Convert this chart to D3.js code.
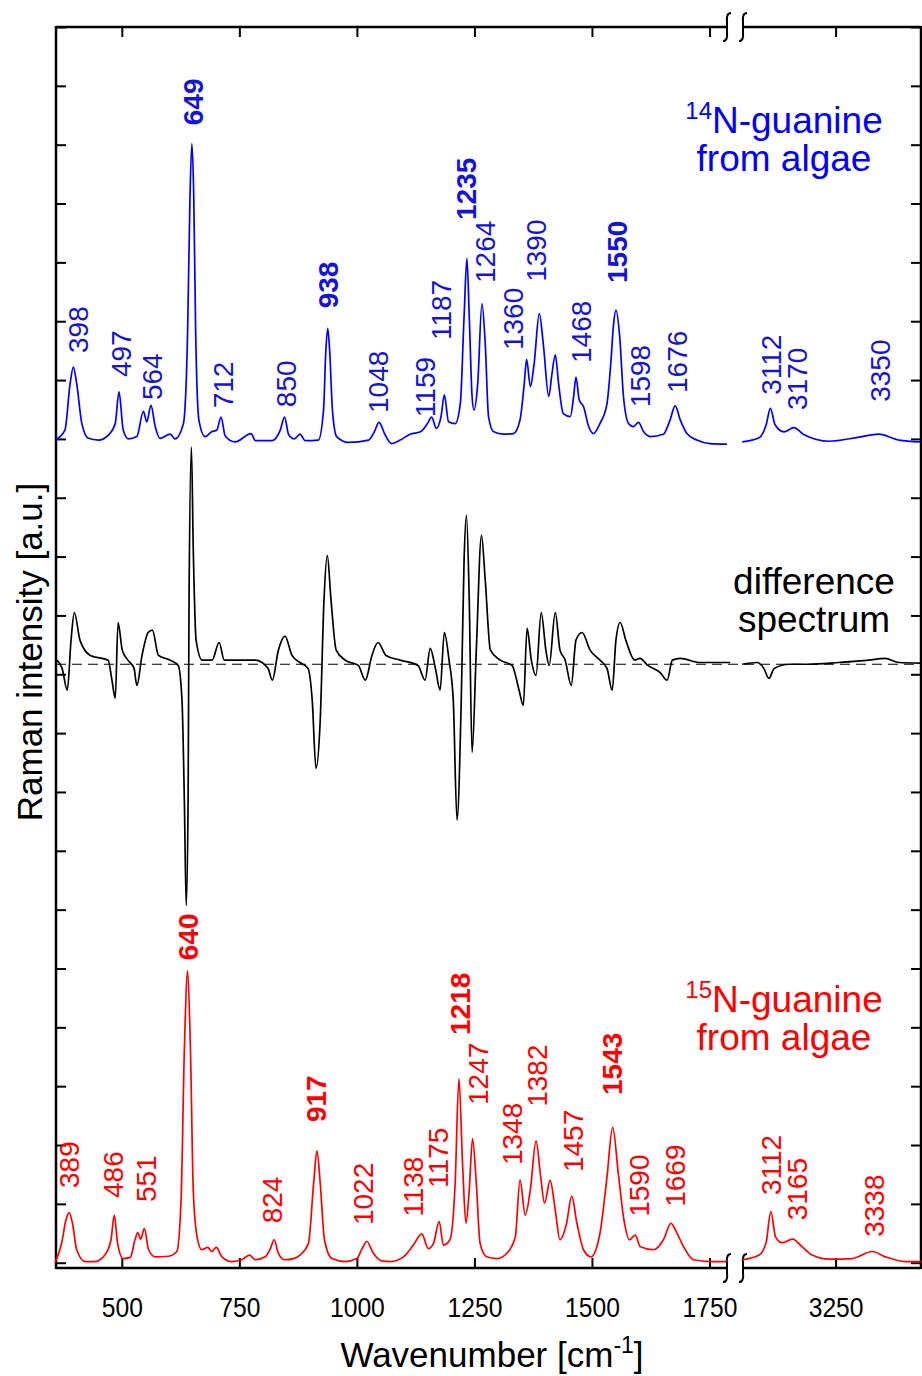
<!DOCTYPE html>
<html>
<head>
<meta charset="utf-8">
<script src="https://cdnjs.cloudflare.com/ajax/libs/d3/7.8.5/d3.min.js"></script>
<style>
body { margin: 0; background: #fff; }
svg { font-family: "Liberation Sans", Arial, sans-serif; }
.axis path { display: none; }
.axis line { stroke: #000; stroke-width: 2; }
.axis text { font-size: 28px; fill: #000; }
</style>
</head>
<body>
<div id="chart"></div>
<script>
// spectra: [wavenumber, intensity above own baseline]
var n14Spectrum = [[358,-0.02],[379,0.15],[390,0.94],[397,1.22],[404,0.94],[415,0.26],[429,0.01],[450,-0.02],[472,0.07],[486,0.26],[494,0.80],[503,0.15],[514,0.0],[532,0.04],[546,0.47],[553,0.29],[562,0.57],[571,0.21],[581,0.01],[603,0.08],[613,0.0],[631,0.26],[640,1.85],[645,4.12],[649,5.02],[653,4.12],[657,1.85],[664,0.32],[677,0.04],[691,0.12],[702,0.15],[711,0.37],[720,0.05],[741,-0.05],[775,0.09],[784,-0.03],[819,-0.03],[837,0.15],[846,0.37],[855,0.07],[867,0],[879,0.08],[890,-0.03],[918,-0.02],[929,0.49],[934,1.51],[938,1.88],[942,1.51],[948,0.49],[957,0.04],[982,-0.06],[1025,-0.02],[1037,0.12],[1047,0.28],[1060,0.07],[1074,-0.08],[1092,-0.02],[1113,0.08],[1135,0.12],[1150,0.26],[1159,0.37],[1169,0.18],[1179,0.38],[1186,0.75],[1195,0.29],[1209,0.26],[1220,0.6],[1228,2.08],[1234,3.07],[1239,2.08],[1245,0.72],[1249,0.49],[1257,0.94],[1266,2.3],[1273,1.62],[1280,0.38],[1291,0.12],[1312,0.08],[1333,0.09],[1347,0.32],[1356,0.94],[1361,1.35],[1369,0.89],[1377,1.28],[1388,2.13],[1397,1.57],[1408,0.72],[1415,1.11],[1422,1.43],[1429,0.94],[1439,0.43],[1454,0.38],[1461,0.72],[1466,1.05],[1473,0.66],[1482,0.55],[1493,0.21],[1503,0.09],[1517,0.26],[1532,0.6],[1540,1.28],[1546,1.96],[1551,2.19],[1559,1.74],[1567,0.72],[1578,0.26],[1588,0.21],[1599,0.28],[1610,0.12],[1624,0.04],[1652,0.08],[1666,0.32],[1677,0.56],[1688,0.32],[1702,0.09],[1723,-0.02],[1751,-0.08],[1787,-0.09],
  [3051,-0.05],[3087,0.02],[3102,0.24],[3111,0.52],[3121,0.24],[3140,0.12],[3161,0.19],[3183,0.07],[3236,-0.04],[3300,0.03],[3342,0.08],[3385,-0.02],[3430,-0.05]];

var diffSpectrum = [[362,0.07],[373,-0.07],[384,-0.44],[392,0.41],[399,0.88],[411,0.41],[433,0.15],[471,0.07],[479,-0.27],[486,-0.58],[492,0.71],[501,0.24],[513,0.07],[526,-0.07],[532,-0.36],[543,0.15],[556,0.54],[565,0.58],[578,0.15],[603,0.07],[620,-0.02],[628,-0.61],[633,-2.31],[637,-4.1],[641,-2.31],[643,1.09],[648,3.69],[652,1.94],[658,0.41],[671,0.07],[692,0.07],[707,0.37],[718,0.07],[752,0.07],[784,0.07],[811,-0.07],[820,-0.27],[833,0.24],[847,0.48],[862,0.15],[879,0.03],[896,-0.07],[905,-0.61],[913,-1.77],[922,-0.95],[930,1.09],[937,1.85],[945,1.09],[956,0.24],[975,0.07],[1003,-0.02],[1018,-0.27],[1032,0.15],[1045,0.37],[1062,0.15],[1092,0.07],[1130,-0.02],[1145,-0.27],[1156,0.27],[1167,-0.07],[1177,-0.44],[1186,0.54],[1196,0.07],[1205,-0.61],[1213,-2.65],[1222,-0.61],[1228,1.77],[1233,2.53],[1239,1.09],[1245,-1.5],[1254,0.24],[1265,2.19],[1273,1.43],[1284,0.24],[1305,0.07],[1330,-0.02],[1345,-0.44],[1354,-0.7],[1362,0.61],[1371,0.07],[1381,-0.19],[1392,0.88],[1402,0.24],[1409,-0.02],[1422,0.88],[1432,0.24],[1443,0.07],[1456,-0.36],[1466,0.41],[1479,0.54],[1496,0.24],[1517,0.07],[1532,-0.07],[1543,-0.44],[1551,0.41],[1560,0.71],[1572,0.41],[1591,0.07],[1602,0.1],[1619,-0.02],[1645,-0.14],[1660,-0.27],[1671,0.07],[1688,0.1],[1730,0.03],[1794,0.03],
  [3051,0],[3083,0.03],[3097,-0.07],[3108,-0.24],[3119,-0.07],[3151,0],[3193,0],[3257,0.03],[3321,0.07],[3355,0.1],[3385,0.03],[3430,0.02]];

var n15Spectrum = [[358,0.0],[372,0.33],[381,0.72],[388,0.85],[395,0.67],[404,0.22],[422,0.02],[443,0.02],[464,0.13],[477,0.39],[484,0.81],[491,0.33],[503,0.07],[518,0.09],[528,0.39],[534,0.51],[540,0.4],[548,0.58],[557,0.22],[571,0.1],[599,0.11],[617,0.19],[626,1.06],[633,3.61],[640,4.96],[646,3.61],[652,1.23],[660,0.44],[670,0.22],[683,0.26],[691,0.19],[701,0.26],[713,0.1],[734,0.02],[755,0.05],[772,0.13],[784,0.05],[805,0.1],[816,0.24],[824,0.39],[833,0.16],[847,0.05],[865,0.07],[879,0.13],[897,0.33],[908,1.35],[915,1.9],[922,1.35],[931,0.39],[947,0.07],[975,0.02],[1000,0.07],[1011,0.24],[1021,0.36],[1035,0.16],[1053,0.03],[1071,0.02],[1099,0.1],[1120,0.3],[1138,0.49],[1152,0.24],[1163,0.33],[1175,0.70],[1184,0.3],[1198,0.39],[1209,1.35],[1217,3.13],[1225,1.63],[1232,0.67],[1239,1.24],[1246,2.11],[1254,1.35],[1262,0.33],[1276,0.1],[1298,0.07],[1319,0.16],[1337,0.44],[1347,1.41],[1358,0.81],[1369,1.24],[1381,2.07],[1391,1.46],[1399,1.01],[1411,1.40],[1422,0.89],[1432,0.39],[1446,0.67],[1457,1.13],[1468,0.67],[1482,0.22],[1498,0.1],[1517,0.5],[1532,1.46],[1544,2.3],[1556,1.52],[1567,0.78],[1580,0.39],[1592,0.47],[1603,0.27],[1631,0.22],[1652,0.39],[1668,0.67],[1681,0.5],[1695,0.27],[1716,0.05],[1751,0.02],[1787,0.02],
  [3051,0.05],[3087,0.13],[3102,0.35],[3112,0.87],[3122,0.44],[3136,0.34],[3158,0.40],[3179,0.27],[3200,0.13],[3236,0.06],[3285,0.07],[3328,0.19],[3356,0.10],[3399,0.02],[3432,0.02]];

// vertical offsets of the stacked traces (axis units)
var seriesOffsets = {n14: 14, diff: 10.17, n15: 0};

// peak labels: [text, wavenumber anchor, intensity anchor, bold]
var n14Labels = [["398",428,1.46,0],["497",520,1.05,0],["564",586,0.66,0],["649",673,5.33,1],["712",737,0.52,0],["850",871,0.54,0],["938",960,2.22,1],["1048",1066,0.44,0],["1159",1166,0.37,0],["1187",1200,1.68,0],["1235",1254,3.72,1],["1264",1294,2.65,0],["1360",1354,1.51,0],["1390",1403,2.67,0],["1468",1498,1.29,0],["1550",1575,2.65,1],["1598",1624,0.54,0],["1676",1702,0.78,0],["3112",3133,0.75,0],["3170",3189,0.49,0],["3350",3365,0.63,0]];
var n15Labels = [["389",409,1.27,0],["486",503,1.10,0],["551",573,1.03,0],["640",662,5.14,1],["824",841,0.67,0],["917",935,2.39,1],["1022",1035,0.64,0],["1138",1141,0.78,0],["1175",1194,1.27,0],["1218",1241,3.87,1],["1247",1279,2.68,0],["1348",1352,1.66,0],["1382",1405,2.65,0],["1457",1481,1.54,0],["1543",1564,2.85,1],["1590",1622,0.78,0],["1669",1698,0.95,0],["3112",3133,1.15,0],["3165",3189,0.72,0],["3338",3354,0.44,0]];

var xTicksLeft = [500, 750, 1000, 1250, 1500, 1750];
var xTicksRight = [3250];
var yTicks = d3.range(0, 22);

draw();

function draw() {
  var W = 922, H = 1376;
  var svg = d3.select('#chart').append('svg').attr('width', W).attr('height', H);
  svg.append('rect').attr('width', W).attr('height', H).attr('fill', '#fff');

  var m = {left: 56, right: 921, top: 27, bottom: 1268};
  var breakL = 727, breakR = 743;

  // broken x axis: two linear pieces with the same cm-1/px
  var xL = d3.scaleLinear().domain([360, 1800]).range([m.left, 733]);
  var xR = d3.scaleLinear().domain([3042, 3432]).range([738, m.right]);
  var y = d3.scaleLinear().domain([-0.09, 21]).range([m.bottom, m.top]);
  function xw(w) { return w < 2500 ? xL(w) : xR(w); }

  var blue = '#0000ff', red = '#ff0000';

  // axes (ticks pointing inwards)
  svg.append('g').attr('class', 'axis').attr('transform', 'translate(0,' + m.bottom + ')')
    .call(d3.axisBottom(xL).tickValues(xTicksLeft).tickSizeInner(-10).tickSizeOuter(0).tickPadding(29).tickFormat(d3.format('d')));
  svg.append('g').attr('class', 'axis').attr('transform', 'translate(0,' + m.bottom + ')')
    .call(d3.axisBottom(xR).tickValues(xTicksRight).tickSizeInner(-10).tickSizeOuter(0).tickPadding(29).tickFormat(d3.format('d')));
  // the tick labels of the figure are a little condensed
  svg.selectAll('.axis text').attr('transform', 'scale(0.88,1)');
  svg.append('g').attr('class', 'axis').attr('transform', 'translate(0,' + m.top + ')')
    .call(d3.axisTop(xL).tickValues(xTicksLeft).tickSizeInner(-10).tickSizeOuter(0).tickFormat(''));
  svg.append('g').attr('class', 'axis').attr('transform', 'translate(0,' + m.top + ')')
    .call(d3.axisTop(xR).tickValues(xTicksRight).tickSizeInner(-10).tickSizeOuter(0).tickFormat(''));
  svg.append('g').attr('class', 'axis').attr('transform', 'translate(' + m.left + ',0)')
    .call(d3.axisLeft(y).tickValues(yTicks).tickSizeInner(-10).tickSizeOuter(0).tickFormat(''));
  svg.append('g').attr('class', 'axis').attr('transform', 'translate(' + m.right + ',0)')
    .call(d3.axisRight(y).tickValues(yTicks).tickSizeInner(-10).tickSizeOuter(0).tickFormat(''));

  // frame with gap at the axis break
  var frame = svg.append('g').attr('stroke', '#000').attr('stroke-width', 2.5).attr('fill', 'none');
  frame.append('line').attr('x1', m.left).attr('x2', m.left).attr('y1', m.top - 1).attr('y2', m.bottom + 1);
  frame.append('line').attr('x1', m.right).attr('x2', m.right).attr('y1', m.top - 1).attr('y2', m.bottom + 1);
  [m.top, m.bottom].forEach(function(yy) {
    frame.append('line').attr('x1', m.left).attr('x2', breakL).attr('y1', yy).attr('y2', yy);
    frame.append('line').attr('x1', breakR).attr('x2', m.right).attr('y1', yy).attr('y2', yy);
    [breakL, breakR].forEach(function(bx) {
      frame.append('path').attr('stroke-width', 2)
        .attr('d', 'M' + (bx + 4) + ',' + (yy - 14) + 'Q' + (bx - 1) + ',' + (yy - 14) + ' ' + bx + ',' + (yy - 5)
          + 'L' + bx + ',' + (yy + 5) + 'Q' + (bx + 1) + ',' + (yy + 14) + ' ' + (bx - 4) + ',' + (yy + 14));
    });
  });

  // zero line of the difference spectrum
  svg.append('line').attr('x1', m.left).attr('x2', m.right)
    .attr('y1', y(seriesOffsets.diff)).attr('y2', y(seriesOffsets.diff))
    .attr('stroke', '#000').attr('stroke-width', 1.2).attr('stroke-dasharray', '10,6');

  function drawSpectrum(data, offset, color) {
    var line = d3.line()
      .curve(d3.curveMonotoneX)
      .x(function(d) { return xw(d[0]); })
      .y(function(d) { return y(d[1] + offset); });
    var parts = [data.filter(function(d) { return d[0] < 2500; }), data.filter(function(d) { return d[0] > 2500; })];
    parts.forEach(function(p) {
      svg.append('path').datum(p).attr('d', line)
        .attr('fill', 'none').attr('stroke', color).attr('stroke-width', 1.7).attr('stroke-linejoin', 'round');
    });
  }
  drawSpectrum(n14Spectrum, seriesOffsets.n14, blue);
  drawSpectrum(diffSpectrum, seriesOffsets.diff, '#000');
  drawSpectrum(n15Spectrum, seriesOffsets.n15, red);

  function drawLabels(labels, offset, color) {
    labels.forEach(function(l) {
      svg.append('text')
        .attr('transform', 'translate(' + xw(l[1]) + ',' + y(l[2] + offset) + ') rotate(-90)')
        .attr('font-size', 28).attr('font-weight', l[3] ? 'bold' : 'normal')
        .attr('fill', color).text(l[0]);
    });
  }
  drawLabels(n14Labels, seriesOffsets.n14, '#1414d8');
  drawLabels(n15Labels, seriesOffsets.n15, red);

  // series titles
  function title(x, y0, sup, rest, line2, color) {
    var t = svg.append('text').attr('x', x).attr('y', y0).attr('text-anchor', 'middle')
      .attr('font-size', 37).attr('fill', color);
    if (sup) t.append('tspan').attr('font-size', 24).attr('dy', -14).text(sup);
    t.append('tspan').attr('dy', sup ? 14 : 0).text(rest);
    svg.append('text').attr('x', x).attr('y', y0 + 38).attr('text-anchor', 'middle')
      .attr('font-size', 37).attr('fill', color).text(line2);
  }
  title(784, 133, '14', 'N-guanine', 'from algae', blue);
  title(814, 594, null, 'difference', 'spectrum', '#000');
  title(784, 1012, '15', 'N-guanine', 'from algae', red);

  // axis titles
  svg.append('text').attr('transform', 'translate(42,652) rotate(-90)').attr('text-anchor', 'middle')
    .attr('font-size', 35).text('Raman intensity [a.u.]');
  var xt = svg.append('text').attr('x', 492).attr('y', 1367).attr('text-anchor', 'middle').attr('font-size', 35);
  xt.append('tspan').text('Wavenumber [cm');
  xt.append('tspan').attr('font-size', 23).attr('dy', -14).text('-1');
  xt.append('tspan').attr('dy', 14).text(']');
}
</script>
</body>
</html>
